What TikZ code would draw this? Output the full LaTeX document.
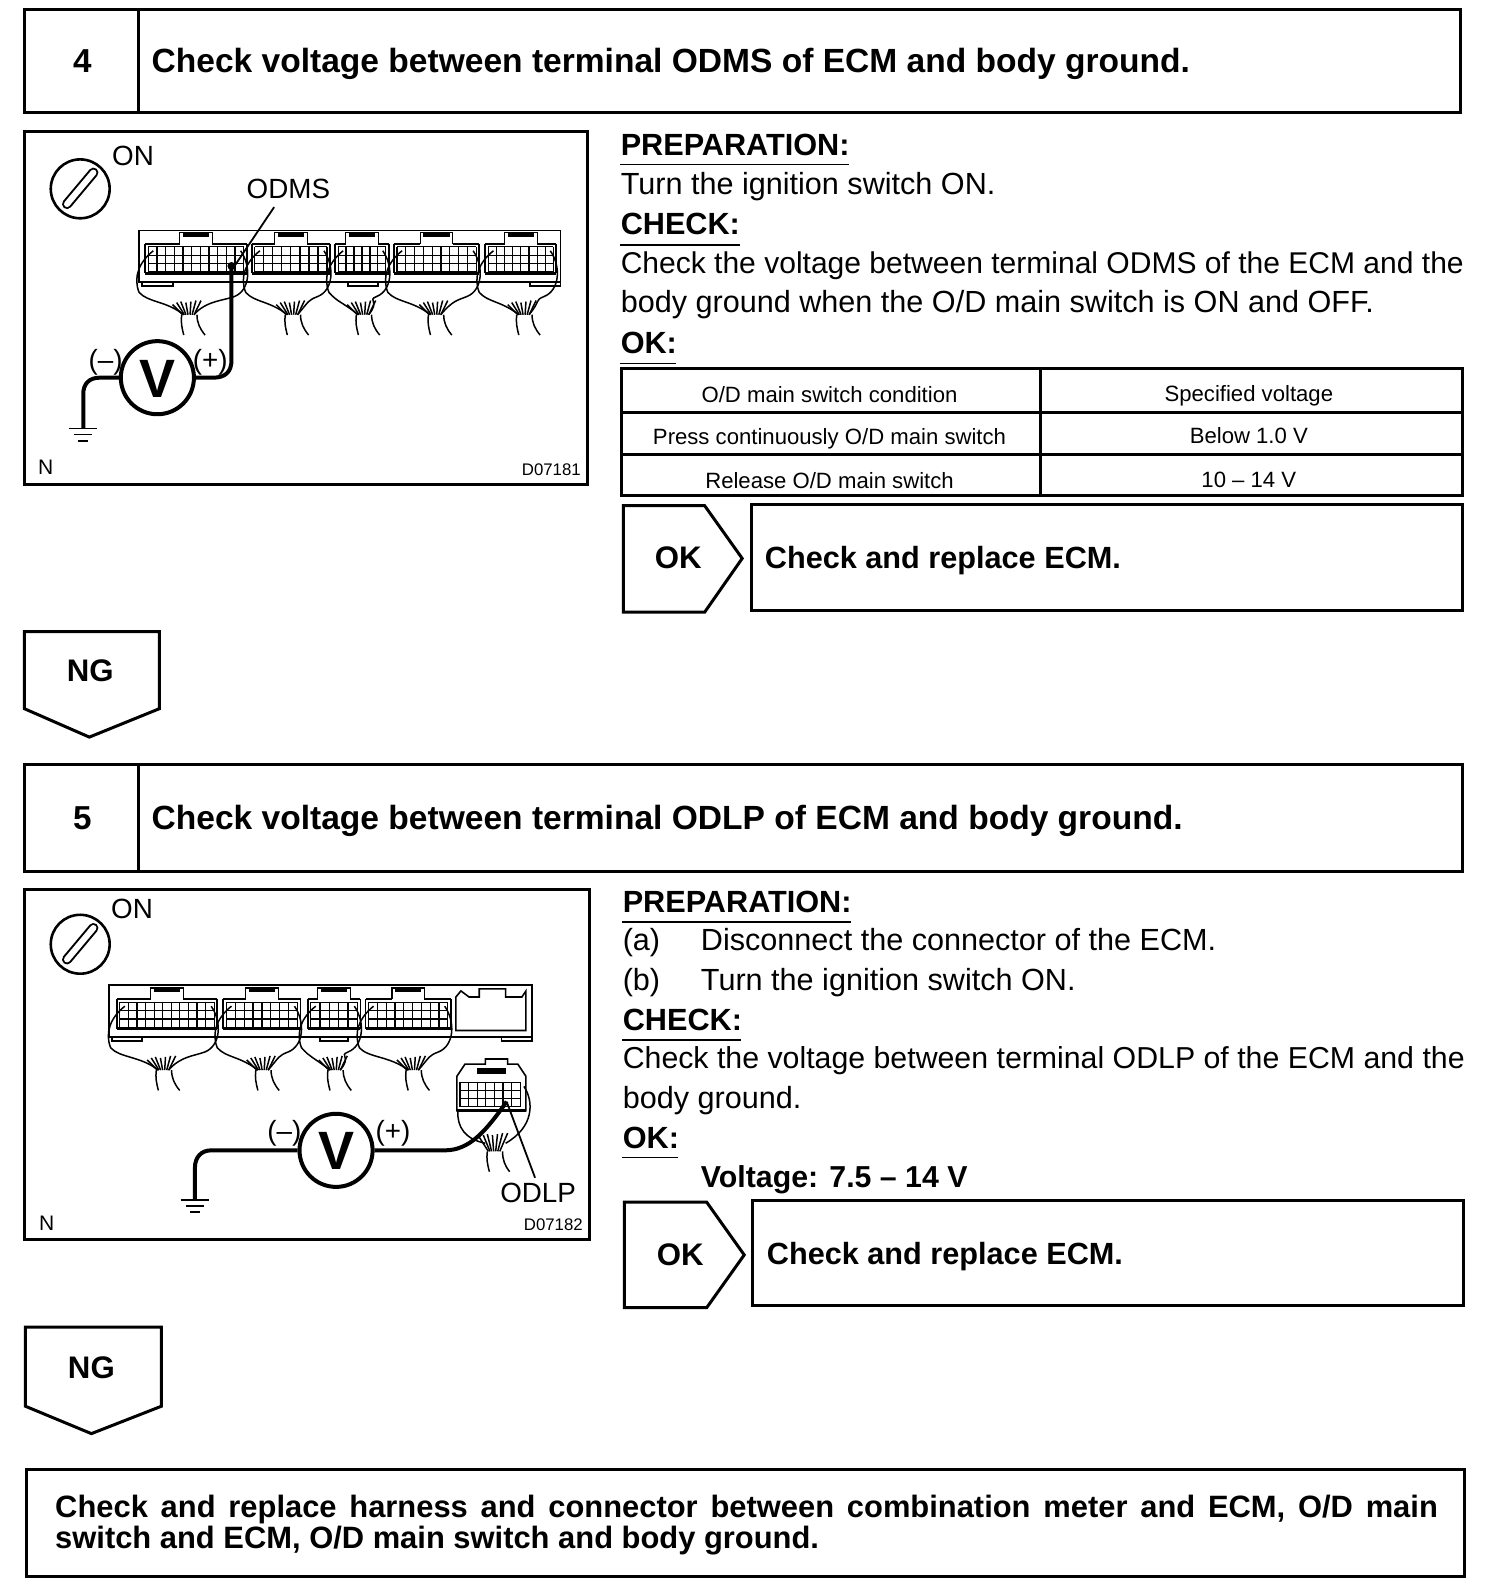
\documentclass[tikz,border=0pt]{standalone}
\usepackage{fontspec}
\setmainfont{Liberation Sans}
\newcommand\conn[4]{%
  % #1 left x, #2 right x, #3 top y, #4 bundle x
  \pgfmathsetmacro\cxm{(#1+#2)/2}
  \draw[thinl] (#1,{#3+2}) -- (#1,{#3+31}) (#2,{#3+2}) -- (#2,{#3+31}) (#1,{#3+2}) -- ({\cxm-16},{#3+2}) ({\cxm+16},{#3+2}) -- (#2,{#3+2});
  \draw[gridl] ({\cxm-16},{#3+2}) -- ({\cxm-16},{#3-9}) -- ({\cxm+16},{#3-9}) -- ({\cxm+16},{#3+2});
  \fill ({\cxm-13},{#3-9}) rectangle ({\cxm+13},{#3-5});
  \draw[line width=1.5pt] (#1,{#3+31}) -- (#2,{#3+31});
  \pgfmathsetmacro\cnn{int(round((#2-#1-6)/8.5))}
  \pgfmathsetmacro\cst{(#2-#1-6)/\cnn}
  \foreach \gi in {0,...,\cnn}{\draw[gridl] ({#1+3+\gi*\cst},{#3+5}) -- ({#1+3+\gi*\cst},{#3+30});}
  \foreach \gj in {0,1,2,3}{\draw[gridl] ({#1+3},{#3+5+\gj*8.3}) -- ({#2-3},{#3+5+\gj*8.3});}
  \draw[wire] ({#1+8},{#3+9}) .. controls ({#1-6},{#3+20}) and ({#1-12},{#3+35}) .. ({#1-6},{#3+50}) .. controls ({#1+3},{#3+60}) and ({#4-22},{#3+58}) .. ({#4-4},{#3+72});
  \draw[wire] ({#2-6},{#3+9}) .. controls ({#2+5},{#3+25}) and ({#2+3},{#3+48}) .. ({#2-12},{#3+54}) .. controls ({#2-22},{#3+58}) and ({#4+18},{#3+58}) .. ({#4+6},{#3+72});
  \draw[wire] ({#4-6},{#3+72}) .. controls ({#4-7},{#3+80}) and ({#4-6},{#3+84}) .. ({#4-4},{#3+92});
  \draw[wire] ({#4+9},{#3+72}) .. controls ({#4+9},{#3+80}) and ({#4+12},{#3+86}) .. ({#4+17},{#3+92});
  \foreach \fx/\fy in {-15/62,-11/60,-7/59,-2/60,3/59,8/58,13/58}{\draw[wire] ({#4+1+\fx*0.4},{#3+72}) -- ({#4+\fx},{#3+\fy});}
}
\newcommand\switchsym[2]{%
  \draw[heavy] (#1,#2) circle (29);
  \draw[line width=5pt,line cap=round] ({#1-13},{#2+15}) -- ({#1+13},{#2-16});
  \draw[line width=3pt,line cap=round,white] ({#1-13},{#2+15}) -- ({#1+13},{#2-16});
}
\newcommand\groundsym[2]{%
  \draw[thick] ({#1-14},#2) -- ({#1+14},#2);
  \draw[thinl] ({#1-9},{#2+6}) -- ({#1+9},{#2+6});
  \draw[thinl] ({#1-5},{#2+12}) -- ({#1+5},{#2+12});
}
\tikzset{
  x=0.50776pt,y=-0.50776pt,
  box/.style={line width=1.5pt,line join=miter},
  heavy/.style={line width=1.3pt},
  thinl/.style={line width=0.9pt},
  gridl/.style={line width=0.6pt},
  wire/.style={line width=0.75pt},
  probe/.style={line width=2pt,line join=round},
  txt/.style={anchor=base west,inner sep=0pt,yshift=-5.4pt,font=\fontsize{15.3}{18}\selectfont},
  head/.style={anchor=base west,inner sep=0pt,yshift=-6pt,font=\fontsize{16.78}{20}\selectfont\bfseries},
  sub/.style={anchor=base west,inner sep=0pt,yshift=-5.5pt,font=\fontsize{15.33}{15.8}\selectfont\bfseries},
  cell/.style={anchor=base,inner sep=0pt,yshift=-4pt,font=\fontsize{11.07}{13}\selectfont},
  lbl/.style={anchor=base,inner sep=0pt,yshift=-5pt,font=\fontsize{13.9}{17}\selectfont},
  small/.style={anchor=base,inner sep=0pt,yshift=-3pt,font=\fontsize{8.4}{10}\selectfont},
  volt/.style={anchor=center,inner sep=0pt,font=\fontsize{27}{30}\selectfont\bfseries},
  num/.style={anchor=base,inner sep=0pt,yshift=-6pt,font=\fontsize{16.6}{20}\selectfont\bfseries},
  okng/.style={anchor=base,inner sep=0pt,yshift=-5.6pt,font=\fontsize{15.6}{20}\selectfont\bfseries},
}
\begin{document}
\begin{tikzpicture}
\useasboundingbox (0,0) rectangle (1481,1568);
\fill[white] (0,0) rectangle (1481,1568);

% ---------- Step 4 header
\draw[box] (24,9) rectangle (1438,111);
\draw[box] (136,9) -- (136,111);
\node[num] (n4) at (81,60) {4};
\node[head] (t4) at (149,60) {Check voltage between terminal ODMS of ECM and body ground.};

% ---------- Diagram 4
\draw[box] (24,130) rectangle (579,477);
\switchsym{79}{186}
\node[lbl] (on1) at (131,153) {ON};
\node[lbl] (odms) at (284,186) {ODMS};
\draw[thinl] (137,227) rectangle (552,278);
\conn{143}{243}{238}{185}
\conn{248}{325}{238}{287}
\conn{330}{383}{238}{357}
\conn{388}{472}{238}{428}
\conn{478}{548}{238}{515}
\draw[thinl] (140,278) rectangle (170,282);
\draw[thinl] (343,278) rectangle (372,282);
\draw[thinl] (522,278) rectangle (552,282);
\draw[thinl] (270,204) -- (231,262);
\node[circle,draw,line width=2pt,minimum size=72*0.50776pt,inner sep=0pt] (v1) at (155,372) {};
\node[volt] (v1t) at (155,373) {V};
\node[lbl] (m1) at (104,354) {(–)};
\node[lbl] (p1) at (207,354) {(+)};
\coordinate (g1) at (82,422);
\coordinate (t1) at (228,262);
\draw[probe] (v1.east) -- (210,372) .. controls (222,372) and (228,366) .. (228,355) -- (t1);
\fill (t1) circle (4);
\draw[probe] (v1.west) -- (98,372) .. controls (88,372) and (82,378) .. (82,388) -- (g1);
\groundsym{82}{422}
\node[lbl,font=\fontsize{10.5}{12}\selectfont,yshift=1.2pt] (n1) at (45,460) {N};
\node[small] (d1) at (543,462) {D07181};

% ---------- Text 4
\node[sub] (pr1) at (611,142) {PREPARATION:};
\draw[thinl] (611,162) -- (836,162);
\node[txt] (a1) at (611,181) {Turn the ignition switch ON.};
\node[sub] (ch1) at (611,220) {CHECK:};
\draw[thinl] (611,241) -- (729,241);
\node[txt,font=\fontsize{15.02}{18}\selectfont] (a2) at (611,259) {Check the voltage between terminal ODMS of the ECM and the};
\node[txt] (a3) at (611,297) {body ground when the O/D main switch is ON and OFF.};
\node[sub] (ok1) at (611,337) {OK:};
\draw[thinl] (611,358) -- (666,358);

% table
\draw[box] (612,363) rectangle (1440,488);
\draw[box] (612,406) -- (1440,406);
\draw[box] (612,448) -- (1440,448);
\draw[box] (1025,363) -- (1025,488);
\node[cell] (c11) at (817,389) {O/D main switch condition};
\node[cell] (c12) at (1230,388) {Specified voltage};
\node[cell] (c21) at (817,430) {Press continuously O/D main switch};
\node[cell] (c22) at (1230,429) {Below 1.0 V};
\node[cell] (c31) at (817,473) {Release O/D main switch};
\node[cell] (c32) at (1230,472) {10 – 14 V};

% OK 4
\draw[box] (614,498) -- (694,498) -- (731,550) -- (694,603) -- (614,603) -- cycle;
\node[okng] (okl1) at (668,549) {OK};
\draw[box] (740,497) rectangle (1440,601);
\node[sub] (okt1) at (753,549) {Check and replace ECM.};

% NG 4
\draw[box] (24,622) -- (157,622) -- (157,698) -- (88,726) -- (24,698) -- cycle;
\node[okng] (ng1) at (89,660) {NG};

% ---------- Step 5 header
\draw[box] (24,753) rectangle (1440,858);
\draw[box] (136,753) -- (136,858);
\node[num] (n5) at (81,805) {5};
\node[head] (t5) at (149,805) {Check voltage between terminal ODLP of ECM and body ground.};

% ---------- Diagram 5
\draw[box] (24,876) rectangle (581,1221);
\switchsym{79}{930}
\node[lbl] (on2) at (130,895) {ON};
\draw[thinl] (107,970) rectangle (524,1021);
\conn{115}{214}{982}{160}
\conn{220}{296}{982}{258}
\conn{303}{355}{982}{329}
\conn{360}{444}{982}{406}
\draw[thick] (449,1015) -- (449,982) -- (454,976) -- (462,982) -- (472,982) -- (472,974) -- (498,974) -- (498,982) -- (514,982) -- (518,976) -- (518,1015) -- cycle;
\draw[thinl] (110,1021) rectangle (140,1025);
\draw[thinl] (315,1021) rectangle (343,1025);
\draw[thinl] (494,1021) rectangle (524,1025);
% free connector
\draw[thick] (450,1060) -- (458,1048) -- (478,1048) -- (478,1043) -- (500,1043) -- (500,1048) -- (510,1048) -- (518,1060) -- (518,1094) -- (450,1094) -- cycle;
\fill (470,1052) rectangle (498,1058);
\foreach \gi in {0,...,7}{\draw[gridl] ({453+\gi*8.5},1066) -- ({453+\gi*8.5},1090);}
\foreach \gj in {0,1,2,3}{\draw[gridl] (453,{1066+\gj*8}) -- (512.5,{1066+\gj*8});}
\draw[line width=1.5pt] (450,1094) -- (518,1094);
\draw[wire] (451,1094) .. controls (450,1110) and (458,1122) .. (478,1126);
\draw[wire] (516,1070) .. controls (526,1085) and (526,1110) .. (498,1126);
\foreach \fx/\fy in {-15/0,-11/-2,-7/-3,-2/-2,3/-3,8/-4,13/-4}{\draw[wire] ({487+\fx*0.4},1134) -- ({487+\fx},{1120+\fy});}
\draw[wire] (480,1134) .. controls (479,1142) and (480,1146) .. (482,1154);
\draw[wire] (495,1134) .. controls (495,1142) and (497,1148) .. (502,1154);
\node[lbl] (odlp) at (530,1175) {ODLP};
\node[circle,draw,line width=2pt,minimum size=72*0.50776pt,inner sep=0pt] (v2) at (331,1133) {};
\node[volt] (v2t) at (331,1134) {V};
\node[lbl] (m2) at (280,1113) {(–)};
\node[lbl] (p2) at (387,1113) {(+)};
\coordinate (g2) at (192,1182);
\coordinate (t2) at (499,1085);
\draw[probe] (v2.east) -- (438,1133) .. controls (462,1133) and (478,1115) .. (t2);
\draw[probe] (v2.west) -- (208,1133) .. controls (198,1133) and (192,1140) .. (192,1150) -- (g2);
\groundsym{192}{1182}
\draw[thinl] (t2) -- (527,1160);
\node[lbl,font=\fontsize{10.5}{12}\selectfont,yshift=1.2pt] (n2) at (46,1204) {N};
\node[small] (d2) at (545,1206) {D07182};

% ---------- Text 5
\node[sub] (pr2) at (613,888) {PREPARATION:};
\draw[thinl] (613,908) -- (838,908);
\node[txt] (b1a) at (613,926) {(a)};
\node[txt] (b1) at (690,926) {Disconnect the connector of the ECM.};
\node[txt] (b2a) at (613,965) {(b)};
\node[txt] (b2) at (690,965) {Turn the ignition switch ON.};
\node[sub] (ch2) at (613,1004) {CHECK:};
\draw[thinl] (613,1024) -- (730,1024);
\node[txt,font=\fontsize{15.15}{18}\selectfont] (b3) at (613,1042) {Check the voltage between terminal ODLP of the ECM and the};
\node[txt] (b4) at (613,1081) {body ground.};
\node[sub] (ok2) at (613,1120) {OK:};
\draw[thinl] (613,1140) -- (668,1140);
\node[sub,font=\fontsize{15.15}{18}\selectfont\bfseries] (b5) at (690,1159) {Voltage: 7.5 – 14 V};

% OK 5
\draw[box] (615,1184) -- (696,1184) -- (733,1236) -- (696,1288) -- (615,1288) -- cycle;
\node[okng] (okl2) at (670,1235) {OK};
\draw[box] (741,1182) rectangle (1441,1286);
\node[sub] (okt2) at (755,1235) {Check and replace ECM.};

% NG 5
\draw[box] (25,1307) -- (159,1307) -- (159,1385) -- (90,1412) -- (25,1385) -- cycle;
\node[okng] (ng2) at (90,1347) {NG};

% ---------- Final box
\draw[box] (26,1447) rectangle (1442,1553);
\node[anchor=west,inner sep=0pt,align=left,font=\fontsize{15.45}{15.8}\selectfont\bfseries] (fin) at (54,1502) {\makebox[691.5pt][s]{Check and replace harness and connector between combination meter and ECM, O/D main}\\switch and ECM, O/D main switch and body ground.};
\end{tikzpicture}
\end{document}
